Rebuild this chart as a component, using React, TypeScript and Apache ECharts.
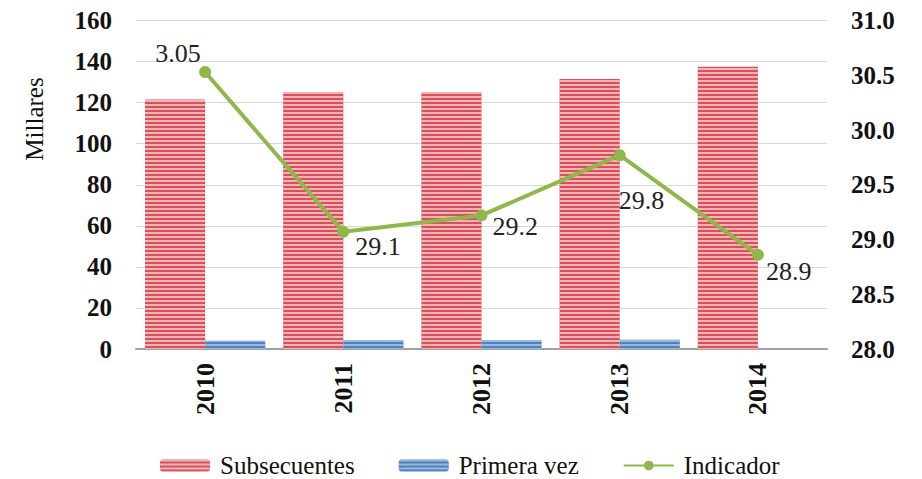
import React, { useEffect, useRef } from "react";
import * as echarts from "echarts";

const years = ["2010", "2011", "2012", "2013", "2014"];
const subsecuentes = [121.5, 125, 125, 131.5, 137.5];
const primeraVez = [4, 4.3, 4.3, 4.5, null];
const indicador = [30.53, 29.07, 29.22, 29.77, 28.86];
const indicadorLabels = ["3.05", "29.1", "29.2", "29.8", "28.9"];
const leftTicks = { min: 0, max: 160, interval: 20 };
const rightTicks = { min: 28, max: 31, interval: 0.5 };

const labelPlacement: any[] = [
  { position: "top", offset: [-27, 6] },
  { position: "right", offset: [1, 15] },
  { position: "right", offset: [0, 11] },
  { position: "right", offset: [-12, 45] },
  { position: "right", offset: [-3, 17] },
];

const FONT = "Liberation Serif";

export default function App() {
  const ref = useRef<HTMLDivElement>(null);
  useEffect(() => {
    if (!ref.current) return;
    const chart = echarts.init(ref.current, null, { renderer: "svg" });
    chart.setOption({
      animation: false,
      backgroundColor: "#ffffff",
      textStyle: { fontFamily: FONT },
      grid: { left: 128, right: 87, top: 12, bottom: 130 },
      legend: {
        top: 440,
        left: 147,
        padding: 5,
        itemGap: 44,
        itemWidth: 50,
        itemHeight: 12,
        textStyle: {
          fontFamily: FONT,
          fontSize: 25,
          color: "#111",
          padding: [0, 0, 0, 5],
        },
        data: [
          { name: "Subsecuentes" },
          { name: "Primera vez" },
          { name: "Indicador" },
        ],
      },
      graphic: [
        {
          type: "text",
          x: 26,
          y: 111,
          rotation: Math.PI / 2,
          style: {
            text: "Millares",
            font: `25px ${FONT}`,
            fill: "#111",
            align: "center",
            verticalAlign: "middle",
          },
        },
      ],
      xAxis: {
        type: "category",
        data: years,
        axisLine: { lineStyle: { color: "#a0a0a0", width: 2 } },
        axisTick: { show: false },
        axisLabel: {
          rotate: 90,
          margin: 14,
          fontFamily: FONT,
          fontSize: 26,
          fontWeight: "bold",
          color: "#111",
        },
      },
      yAxis: [
        {
          type: "value",
          ...leftTicks,
          axisLine: { show: false },
          axisTick: { show: false },
          splitLine: { lineStyle: { color: "#d9d9d9", width: 1 } },
          axisLabel: {
            margin: 24,
            fontFamily: FONT,
            fontSize: 25,
            fontWeight: "bold",
            color: "#111",
          },
        },
        {
          type: "value",
          ...rightTicks,
          axisLine: { show: false },
          axisTick: { show: false },
          splitLine: { show: false },
          axisLabel: {
            margin: 24,
            fontFamily: FONT,
            fontSize: 25,
            fontWeight: "bold",
            color: "#111",
            formatter: (v: number) => v.toFixed(1),
          },
        },
      ],
      series: [
        {
          name: "Subsecuentes",
          type: "bar",
          data: subsecuentes,
          barGap: "0%",
          barCategoryGap: "13%",
          itemStyle: {
            color: "#d8505f",
            decal: {
              symbol: "rect",
              dashArrayX: [1, 0],
              dashArrayY: [1.5, 2],
              color: "rgba(250,215,205,0.75)",
              rotation: 0,
            },
          },
        },
        {
          name: "Primera vez",
          type: "bar",
          data: primeraVez,
          itemStyle: {
            color: "#4f81bd",
            decal: {
              symbol: "rect",
              dashArrayX: [1, 0],
              dashArrayY: [1.5, 2],
              color: "rgba(200,220,245,0.6)",
              rotation: 0,
            },
          },
        },
        {
          name: "Indicador",
          type: "line",
          yAxisIndex: 1,
          symbol: "circle",
          symbolSize: 12,
          lineStyle: { color: "#8fb84a", width: 4 },
          itemStyle: { color: "#8fb84a" },
          label: {
            show: true,
            fontFamily: FONT,
            fontSize: 26,
            color: "#222",
          },
          data: indicador.map((v, i) => ({
            value: v,
            label: {
              formatter: indicadorLabels[i],
              ...labelPlacement[i],
            },
          })),
        },
      ],
    });
    return () => chart.dispose();
  }, []);
  return <div ref={ref} style={{ width: 906, height: 471 }} />;
}
